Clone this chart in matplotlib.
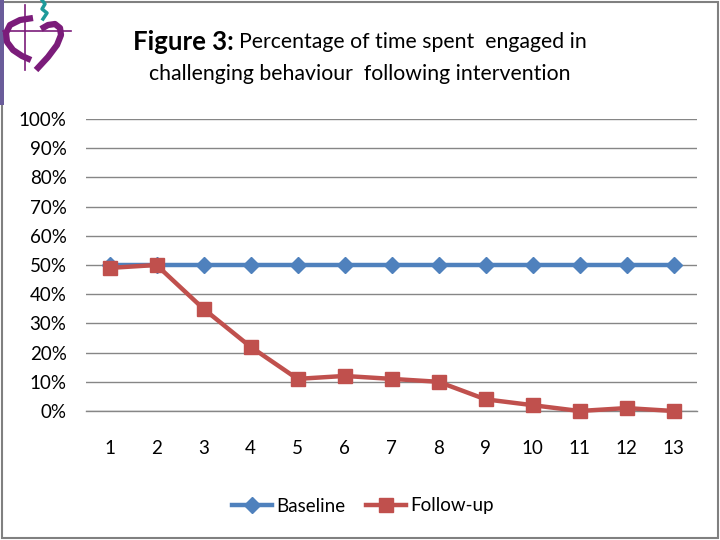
import matplotlib
matplotlib.use("Agg")
import matplotlib.pyplot as plt
from matplotlib.lines import Line2D
from matplotlib.patches import Rectangle
from matplotlib.ticker import FuncFormatter

categories = [str(i) for i in range(1, 14)]
baseline = [50] * 13
follow_up = [49, 50, 35, 22, 11, 12, 11, 10, 4, 2, 0, 1, 0]
yticks = list(range(0, 101, 10))

FONT = ["Lato", "DejaVu Sans"]
plt.rcParams['font.family'] = FONT

W, H = 720, 540
fig = plt.figure(figsize=(7.2, 5.4), dpi=100)
fig.patch.set_facecolor("white")

def fx(px):
    return px / W

def fy(py):
    return 1 - py / H

ax = fig.add_axes([fx(86), fy(411), fx(697) - fx(86), fy(119) - fy(411)])
x = list(range(1, len(categories) + 1))
ax.plot(x, baseline, color="#4F81BD", lw=3.2, marker="D", markersize=8,
        markerfacecolor="#4F81BD", markeredgecolor="#4F81BD", clip_on=False,
        zorder=3, label="Baseline")
ax.plot(x, follow_up, color="#C0504D", lw=3.2, marker="s", markersize=10,
        markerfacecolor="#C0504D", markeredgecolor="#C0504D", clip_on=False,
        zorder=4, label="Follow-up")

ax.set_xlim(0.5, len(categories) + 0.5)
ax.set_ylim(0, 100)
ax.set_yticks(yticks)
ax.yaxis.set_major_formatter(FuncFormatter(lambda v, p: f"{int(v)}%"))
ax.set_xticks(x)
ax.set_xticklabels(categories)
ax.grid(axis="y", color="#868686", lw=1)
ax.set_axisbelow(True)
for s in ["top", "right", "left"]:
    ax.spines[s].set_visible(False)
ax.spines["bottom"].set_color("#868686")
ax.spines["bottom"].set_linewidth(1)
ax.tick_params(axis="both", length=0, labelsize=13.5, colors="black")
ax.tick_params(axis="y", pad=14)
ax.tick_params(axis="x", pad=21)

leg = fig.legend(loc="center", bbox_to_anchor=(fx(363), fy(506)), ncol=2,
                 frameon=False, fontsize=13.5, handlelength=2.1,
                 columnspacing=1.1, handletextpad=0.25)

# Title
t1a = fig.text(fx(133), fy(42), "Figure 3:", ha="left", va="center",
               fontsize=18.5, fontweight="bold", family=FONT)
fig.canvas.draw()
bb = t1a.get_window_extent()
fig.text(bb.x1 / W + fx(5), fy(42), "Percentage of time spent  engaged in",
         ha="left", va="center", fontsize=15.3, family=FONT)
fig.text(fx(360), fy(74), "challenging behaviour  following intervention",
         ha="center", va="center", fontsize=15.3, family=FONT)

# Border
fig.add_artist(Rectangle((fx(2), fy(538)), fx(716), fy(2) - fy(538),
                         transform=fig.transFigure, fill=False,
                         edgecolor="#808080", lw=1.5))
fig.add_artist(Rectangle((0, fy(105)), fx(4), fy(0) - fy(105),
                         transform=fig.transFigure, color="#6A5C9A", lw=0))

# Logo
purple = "#7B1C7A"
def pline(xs, ys, **kw):
    fig.add_artist(Line2D([fx(v) for v in xs], [fy(v) for v in ys],
                          transform=fig.transFigure, **kw))
pline([25, 25], [5, 70], color=purple, lw=1.2)
pline([3, 71], [31, 31], color=purple, lw=1.2)
pline([33, 20, 10, 6, 7, 13, 22, 31], [18, 20, 25, 33, 42, 50, 56, 60],
      color=purple, lw=4.5, solid_capstyle="butt")
pline([41, 48, 55, 60, 61, 57, 48, 36], [29, 25, 24, 28, 35, 45, 57, 70],
      color=purple, lw=4.5, solid_capstyle="butt")
pline([43, 47, 42, 45, 42], [19, 13, 9, 4, 0], color="#1E9A9A", lw=2.5)

fig.savefig("out.png", dpi=100, facecolor="white")
